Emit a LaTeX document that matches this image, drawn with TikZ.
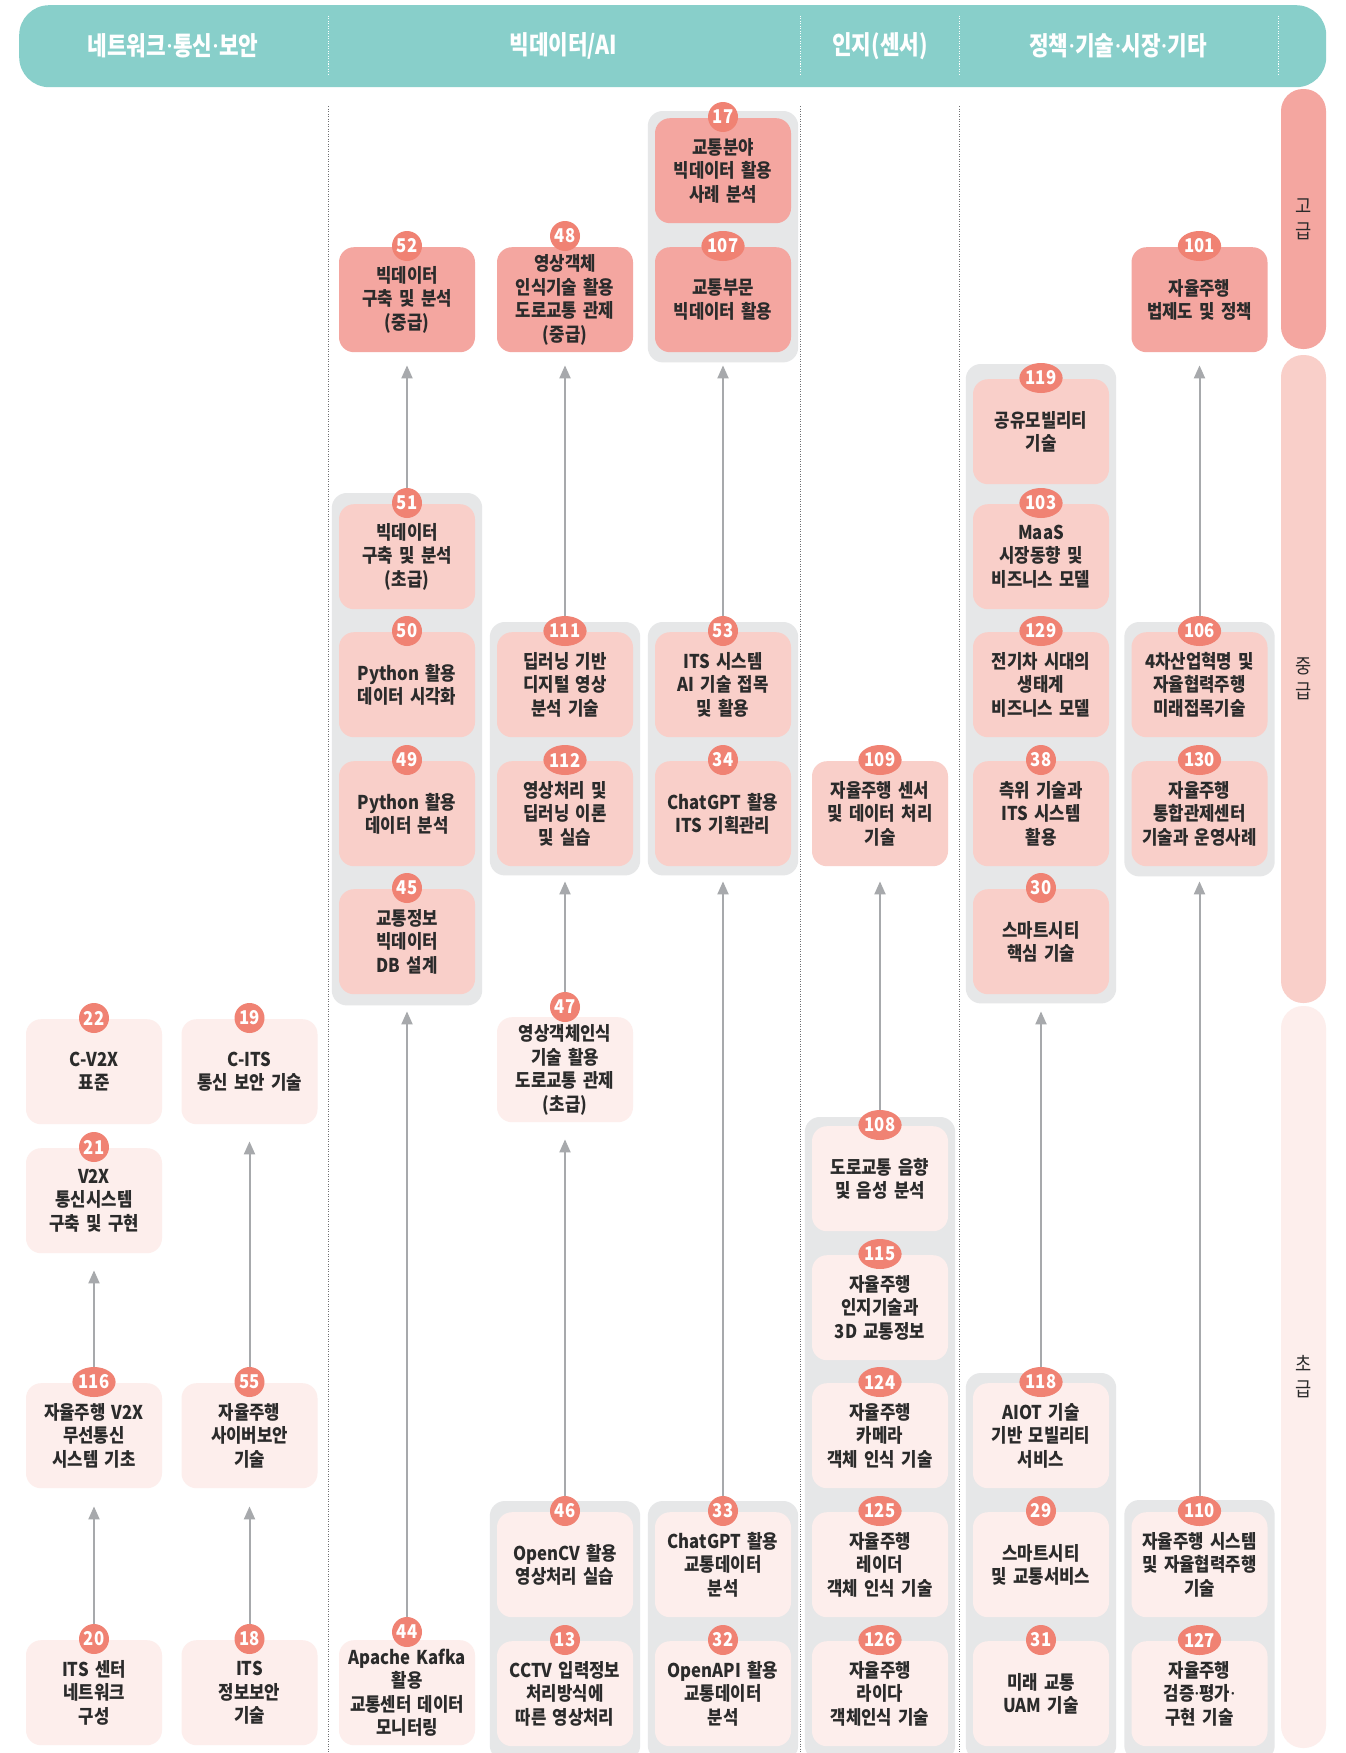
\documentclass[tikz,border=0pt]{standalone}
\usepackage{fontspec}
\setmainfont{Noto Sans CJK KR}[FakeStretch=0.88, WordSpace=0.5]
\newfontfamily\hdrfam{Noto Sans CJK KR}[FakeStretch=0.82, WordSpace=0.6]
\newfontfamily\dotfam{Noto Sans}
\newcommand\md{{\dotfam ·}}
\usetikzlibrary{shapes.geometric,arrows.meta,backgrounds}
\definecolor{hdrcol}{HTML}{88CFCA}
\definecolor{advcol}{HTML}{F4A6A0}
\definecolor{midcol}{HTML}{F9CFC9}
\definecolor{begcol}{HTML}{FDEEEC}
\definecolor{badgecol}{HTML}{F08273}
\definecolor{grpcol}{HTML}{E6E7E8}
\definecolor{arrcol}{HTML}{A7A9AC}
\definecolor{txtcol}{HTML}{2B2B2B}
\definecolor{divcol}{HTML}{6D6E71}
\newcommand\boxfont{\fontsize{19}{23.5}\selectfont\bfseries}
\newcommand\badgefont{\fontsize{19}{20}\selectfont\bfseries}
\newcommand\hdrfont{\hdrfam\fontsize{26}{30}\selectfont\bfseries}
\newcommand\lvlfont{\fontsize{20}{25}\selectfont}
\newcommand\crs[6][1]{%
  \node[#5,anchor=north] (b#2) at (#3,#4) {#6};
  \ifnum#2>99
    \node[badge,minimum width=42pt] (n#2) at ([yshift=#1pt]b#2.north) {#2};
  \else
    \node[badge] (n#2) at ([yshift=#1pt]b#2.north) {#2};
  \fi}
\tikzset{
  course/.style={rounded corners=15pt, minimum width=136pt, minimum height=105pt,
    text width=136pt, inner sep=0pt, align=center, font=\boxfont, text=txtcol},
  crsA/.style={course, fill=advcol},
  crsB/.style={course, fill=midcol},
  crsC/.style={course, fill=begcol},
  badge/.style={ellipse, fill=badgecol, text=white, inner sep=0pt,
    minimum width=30pt, minimum height=30pt, font=\badgefont},
  grp/.style={fill=grpcol, rounded corners=15pt},
  arr/.style={draw=arrcol, line width=2pt, -{Triangle[width=11pt,length=13pt]}},
  hdrlabel/.style={text=white, font=\hdrfont, inner sep=0pt},
  lvlbar/.style={rounded corners=22pt, minimum width=45pt, inner sep=0pt,
    align=center, font=\lvlfont, text=txtcol},
  bodydiv/.style={draw=divcol, line width=1pt, dash pattern=on 1pt off 1.5pt},
  hdrdiv/.style={draw=white, line width=1pt, dash pattern=on 1pt off 1.5pt}
}
\begin{document}
\begin{tikzpicture}[x=1pt,y=-1pt]
\useasboundingbox (0,0) rectangle (1345,1753);
% header
\node[fill=hdrcol, rounded corners=30pt, minimum width=1307pt, minimum height=82pt,
  inner sep=0pt, anchor=north west] (hdr) at (19,5) {};
\node[hdrlabel] (h1) at (173,46) {네트워크\md 통신\md 보안};
\node[hdrlabel] (h2) at (563,46) {빅데이터/AI};
\node[hdrlabel] (h3) at (880,46) {인지(센서)};
\node[hdrlabel] (h4) at (1118,46) {정책\md 기술\md 시장\md 기타};
\foreach \xx in {328,800,959,1278} \draw[hdrdiv] (\xx,16) -- (\xx,76);
% body dividers
\foreach \xx in {328,800,959} \draw[bodydiv] (\xx,106) -- (\xx,1753);
% level bars
\node[lvlbar, fill=advcol, minimum height=260pt] (lv1) at (1303.5,219) {고\\급};
\node[lvlbar, fill=midcol, minimum height=648pt] (lv2) at (1303.5,679) {중\\급};
\node[lvlbar, fill=begcol, minimum height=742pt] (lv3) at (1303.5,1377) {초\\급};
% column 1
\crs{22}{94}{1019}{crsC}{C-V2X\\표준}
\crs{21}{94}{1148}{crsC}{V2X\\통신시스템\\구축 및 구현}
\crs{116}{94}{1383}{crsC}{자율주행 V2X\\무선통신\\시스템 기초}
\crs{20}{94}{1640}{crsC}{ITS 센터\\네트워크\\구성}
% column 2
\crs{19}{249.5}{1019}{crsC}{C-ITS\\통신 보안 기술}
\crs{55}{249.5}{1383}{crsC}{자율주행\\사이버보안\\기술}
\crs{18}{249.5}{1640}{crsC}{ITS\\정보보안\\기술}
% column 3
\crs{52}{407}{247}{crsA}{빅데이터\\구축 및 분석\\(중급)}
\crs{51}{407}{504}{crsB}{빅데이터\\구축 및 분석\\(초급)}
\crs{50}{407}{632}{crsB}{Python 활용\\데이터 시각화}
\crs{49}{407}{761}{crsB}{Python 활용\\데이터 분석}
\crs{45}{407}{889}{crsB}{교통정보\\빅데이터\\DB 설계}
\crs[8]{44}{407}{1640}{crsC}{Apache Kafka\\활용\\교통센터 데이터\\모니터링}
% column 4
\crs[11]{48}{565}{247}{crsA}{영상객체\\인식기술 활용\\도로교통 관제\\(중급)}
\crs{111}{565}{632}{crsB}{딥러닝 기반\\디지털 영상\\분석 기술}
\crs{112}{565}{761}{crsB}{영상처리 및\\딥러닝 이론\\및 실습}
\crs[10]{47}{565}{1017}{crsC}{영상객체인식\\기술 활용\\도로교통 관제\\(초급)}
\crs{46}{565}{1512}{crsC}{OpenCV 활용\\영상처리 실습}
\crs{13}{565}{1641}{crsC}{CCTV 입력정보\\처리방식에\\따른 영상처리}
% column 5
\crs{17}{723}{118}{crsA}{교통분야\\빅데이터 활용\\사례 분석}
\crs{107}{723}{247}{crsA}{교통부문\\빅데이터 활용}
\crs{53}{723}{632}{crsB}{ITS 시스템\\AI 기술 접목\\및 활용}
\crs{34}{723}{761}{crsB}{ChatGPT 활용\\ITS 기획관리}
\crs{33}{723}{1512}{crsC}{ChatGPT 활용\\교통데이터\\분석}
\crs{32}{723}{1641}{crsC}{OpenAPI 활용\\교통데이터\\분석}
% column 6
\crs{109}{880}{761}{crsB}{자율주행 센서\\및 데이터 처리\\기술}
\crs{108}{880}{1126}{crsC}{도로교통 음향\\및 음성 분석}
\crs{115}{880}{1255}{crsC}{자율주행\\인지기술과\\3D 교통정보}
\crs{124}{880}{1383}{crsC}{자율주행\\카메라\\객체 인식 기술}
\crs{125}{880}{1512}{crsC}{자율주행\\레이더\\객체 인식 기술}
\crs{126}{880}{1641}{crsC}{자율주행\\라이다\\객체인식 기술}
% column 7
\crs{119}{1041}{379}{crsB}{공유모빌리티\\기술}
\crs{103}{1041}{504}{crsB}{MaaS\\시장동향 및\\비즈니스 모델}
\crs{129}{1041}{632}{crsB}{전기차 시대의\\생태계\\비즈니스 모델}
\crs{38}{1041}{761}{crsB}{측위 기술과\\ITS 시스템\\활용}
\crs{30}{1041}{889}{crsB}{스마트시티\\핵심 기술}
\crs{118}{1041}{1383}{crsC}{AIOT 기술\\기반 모빌리티\\서비스}
\crs{29}{1041}{1512}{crsC}{스마트시티\\및 교통서비스}
\crs{31}{1041}{1641}{crsC}{미래 교통\\UAM 기술}
% column 8
\crs{101}{1199.5}{247}{crsA}{자율주행\\법제도 및 정책}
\crs{106}{1199.5}{632}{crsB}{4차산업혁명 및\\자율협력주행\\미래접목기술}
\crs{130}{1199.5}{761}{crsB}{자율주행\\통합관제센터\\기술과 운영사례}
\crs{110}{1199.5}{1512}{crsC}{자율주행 시스템\\및 자율협력주행\\기술}
\crs{127}{1199.5}{1641}{crsC}{자율주행\\검증\md 평가\md\\구현 기술}
% arrows
\draw[arr] (n116.north) -- ([yshift=-17pt]b21.south);
\draw[arr] (n20.north) -- ([yshift=-18pt]b116.south);
\draw[arr] (n55.north) -- ([yshift=-17pt]b19.south);
\draw[arr] (n18.north) -- ([yshift=-18pt]b55.south);
\draw[arr] (n51.north) -- ([yshift=-13pt]b52.south);
\draw[arr] (n44.north) -- ([yshift=-17pt]b45.south);
\draw[arr] (n111.north) -- ([yshift=-13pt]b48.south);
\draw[arr] (n47.north) -- ([yshift=-15pt]b112.south);
\draw[arr] (n46.north) -- ([yshift=-17pt]b47.south);
\draw[arr] (n53.north) -- ([yshift=-13pt]b107.south);
\draw[arr] (n33.north) -- ([yshift=-15pt]b34.south);
\draw[arr] (n108.north) -- ([yshift=-15pt]b109.south);
\draw[arr] (n118.north) -- ([yshift=-17pt]b30.south);
\draw[arr] (n110.north) -- ([yshift=-15pt]b130.south);
\draw[arr] (n106.north) -- ([yshift=-13pt]b101.south);
% background: groups
\begin{scope}[on background layer]
\fill[white] (0,0) rectangle (1345,1753);
\fill[grp] ([xshift=-7pt,yshift=7pt]b17.north west) rectangle ([xshift=7pt,yshift=-10pt]b107.south east);
\fill[grp] ([xshift=-7pt,yshift=11pt]b51.north west) rectangle ([xshift=7pt,yshift=-11pt]b45.south east);
\fill[grp] ([xshift=-7pt,yshift=10pt]b111.north west) rectangle ([xshift=7pt,yshift=-9pt]b112.south east);
\fill[grp] ([xshift=-7pt,yshift=10pt]b53.north west) rectangle ([xshift=7pt,yshift=-9pt]b34.south east);
\fill[grp] ([xshift=-7pt,yshift=15pt]b119.north west) rectangle ([xshift=7pt,yshift=-9pt]b30.south east);
\fill[grp] ([xshift=-7pt,yshift=10pt]b106.north west) rectangle ([xshift=7pt,yshift=-10pt]b130.south east);
\fill[grp] ([xshift=-7pt,yshift=9pt]b108.north west) rectangle ([xshift=7pt,yshift=-14pt]b126.south east);
\fill[grp] ([xshift=-7pt,yshift=10pt]b118.north west) rectangle ([xshift=7pt,yshift=-14pt]b31.south east);
\fill[grp] ([xshift=-7pt,yshift=11pt]b46.north west) rectangle ([xshift=7pt,yshift=-14pt]b13.south east);
\fill[grp] ([xshift=-7pt,yshift=11pt]b33.north west) rectangle ([xshift=7pt,yshift=-14pt]b32.south east);
\fill[grp] ([xshift=-7pt,yshift=12pt]b110.north west) rectangle ([xshift=7pt,yshift=-14pt]b127.south east);
\end{scope}
\end{tikzpicture}
\end{document}
